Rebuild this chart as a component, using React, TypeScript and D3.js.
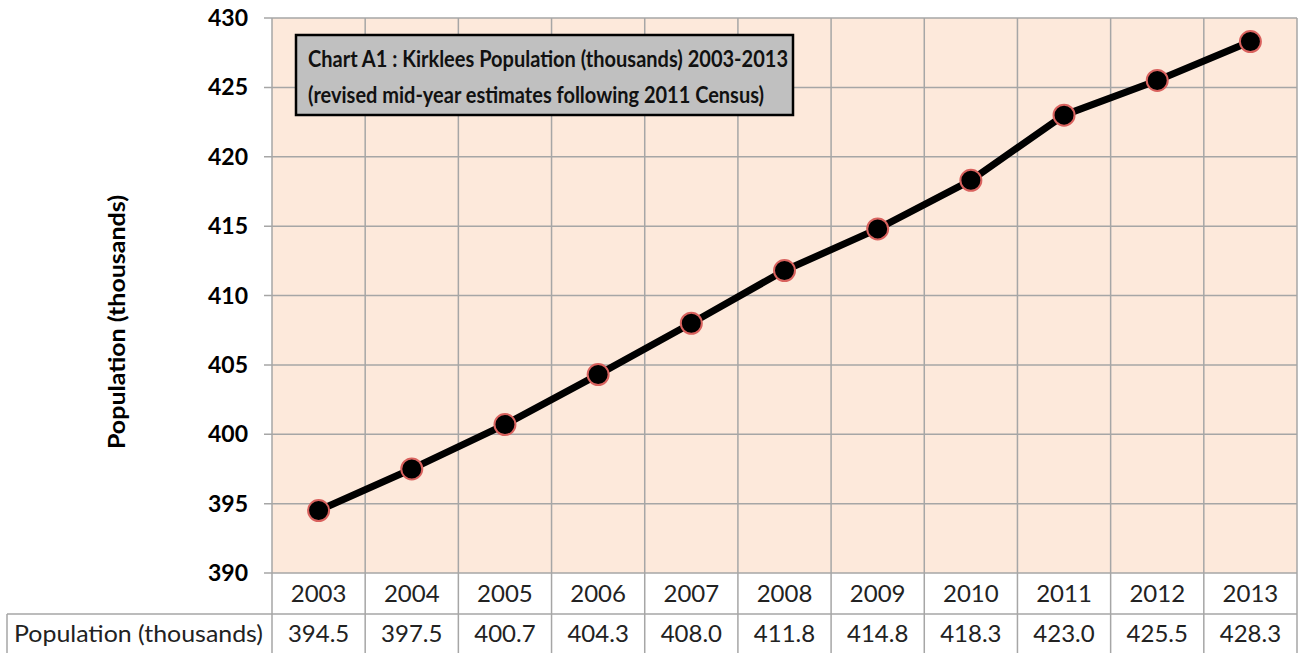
import * as d3 from "d3";
import { useEffect, useRef } from "react";

const years = ["2003", "2004", "2005", "2006", "2007", "2008", "2009", "2010", "2011", "2012", "2013"];
const population = [394.5, 397.5, 400.7, 404.3, 408.0, 411.8, 414.8, 418.3, 423.0, 425.5, 428.3];
const yTicks = [390, 395, 400, 405, 410, 415, 420, 425, 430];
const titleLines = [
  "Chart A1 : Kirklees Population (thousands)  2003-2013",
  "(revised mid-year estimates following 2011 Census)",
];
const seriesName = "Population (thousands)";

export default function App() {
  const ref = useRef<SVGSVGElement>(null);
  const width = 1299,
    height = 653;
  const left = 272,
    right = 1297,
    top = 18,
    bottom = 573;
  const font = "Lato, 'Open Sans', sans-serif";

  useEffect(() => {
    const svg = d3.select(ref.current);
    svg.selectAll("*").remove();

    const x = d3.scaleBand().domain(years).range([left, right]);
    const y = d3.scaleLinear().domain([390, 430]).range([bottom, top]);
    const grid = "#a6a6a6";

    svg
      .append("rect")
      .attr("x", left)
      .attr("y", top)
      .attr("width", right - left)
      .attr("height", bottom - top)
      .attr("fill", "#fde9db");

    // horizontal gridlines + tick marks
    svg
      .selectAll(".hgrid")
      .data(yTicks)
      .join("line")
      .attr("x1", left - 8)
      .attr("x2", right)
      .attr("y1", (d) => y(d))
      .attr("y2", (d) => y(d))
      .attr("stroke", grid)
      .attr("stroke-width", 1.5);

    // vertical gridlines running through table
    const edges = [...years.map((d) => x(d)!), right];
    svg
      .selectAll(".vgrid")
      .data(edges)
      .join("line")
      .attr("x1", (d) => d)
      .attr("x2", (d) => d)
      .attr("y1", top)
      .attr("y2", height)
      .attr("stroke", grid)
      .attr("stroke-width", 1.5);

    // table horizontal lines
    const row1 = 614;
    svg
      .append("line")
      .attr("x1", 7)
      .attr("x2", right)
      .attr("y1", row1)
      .attr("y2", row1)
      .attr("stroke", grid)
      .attr("stroke-width", 1.5);
    svg
      .append("line")
      .attr("x1", 7)
      .attr("x2", 7)
      .attr("y1", row1)
      .attr("y2", height)
      .attr("stroke", grid)
      .attr("stroke-width", 1.5);

    // y tick labels
    svg
      .selectAll(".ylab")
      .data(yTicks)
      .join("text")
      .attr("x", 248)
      .attr("y", (d) => y(d) + 8)
      .attr("text-anchor", "end")
      .attr("font-family", font)
      .attr("font-weight", "bold")
      .attr("font-size", 23)
      .attr("fill", "#000")
      .text((d) => d);

    svg
      .append("text")
      .attr("transform", `translate(125, ${322}) rotate(-90)`)
      .attr("text-anchor", "middle")
      .attr("font-family", font)
      .attr("font-weight", "bold")
      .attr("font-size", 22)
      .attr("textLength", 254)
      .attr("lengthAdjust", "spacingAndGlyphs")
      .text(seriesName);

    // category labels
    svg
      .selectAll(".xlab")
      .data(years)
      .join("text")
      .attr("x", (d) => x(d)! + x.bandwidth() / 2)
      .attr("y", 602)
      .attr("text-anchor", "middle")
      .attr("font-family", font)
      .attr("font-size", 24)
      .attr("fill", "#222")
      .text((d) => d);

    // data row
    svg
      .append("text")
      .attr("x", 14)
      .attr("y", 642)
      .attr("font-family", font)
      .attr("font-size", 24)
      .attr("textLength", 249)
      .attr("lengthAdjust", "spacingAndGlyphs")
      .attr("fill", "#222")
      .text(seriesName);
    svg
      .selectAll(".val")
      .data(population)
      .join("text")
      .attr("x", (_, i) => x(years[i])! + x.bandwidth() / 2)
      .attr("y", 642)
      .attr("text-anchor", "middle")
      .attr("font-family", font)
      .attr("font-size", 24)
      .attr("fill", "#222")
      .text((d) => d.toFixed(1));

    // line
    const line = d3
      .line<number>()
      .x((_, i) => x(years[i])! + x.bandwidth() / 2)
      .y((d) => y(d));
    svg
      .append("path")
      .datum(population)
      .attr("d", line)
      .attr("fill", "none")
      .attr("stroke", "#000")
      .attr("stroke-width", 7)
      .attr("stroke-linejoin", "round");

    svg
      .selectAll(".pt")
      .data(population)
      .join("circle")
      .attr("cx", (_, i) => x(years[i])! + x.bandwidth() / 2)
      .attr("cy", (d) => y(d))
      .attr("r", 10.5)
      .attr("fill", "#000")
      .attr("stroke", "#d9625e")
      .attr("stroke-width", 2);

    // title box
    const g = svg.append("g");
    g.append("rect")
      .attr("x", 296)
      .attr("y", 35)
      .attr("width", 497)
      .attr("height", 80)
      .attr("fill", "#c0c0c0")
      .attr("stroke", "#000")
      .attr("stroke-width", 2.5);
    g.selectAll("text")
      .data(titleLines)
      .join("text")
      .attr("x", 308)
      .attr("y", (_, i) => 67 + i * 36)
      .attr("font-family", font)
      .attr("font-weight", "bold")
      .attr("font-size", 23)
      .attr("textLength", (_, i) => (i === 0 ? 480 : 456))
      .attr("lengthAdjust", "spacingAndGlyphs")
      .attr("fill", "#111")
      .text((d) => d);
  }, []);

  return (
    <svg
      ref={ref}
      width={width}
      height={height}
      style={{ position: "absolute", left: 0, top: 0, background: "#fff" }}
    />
  );
}
